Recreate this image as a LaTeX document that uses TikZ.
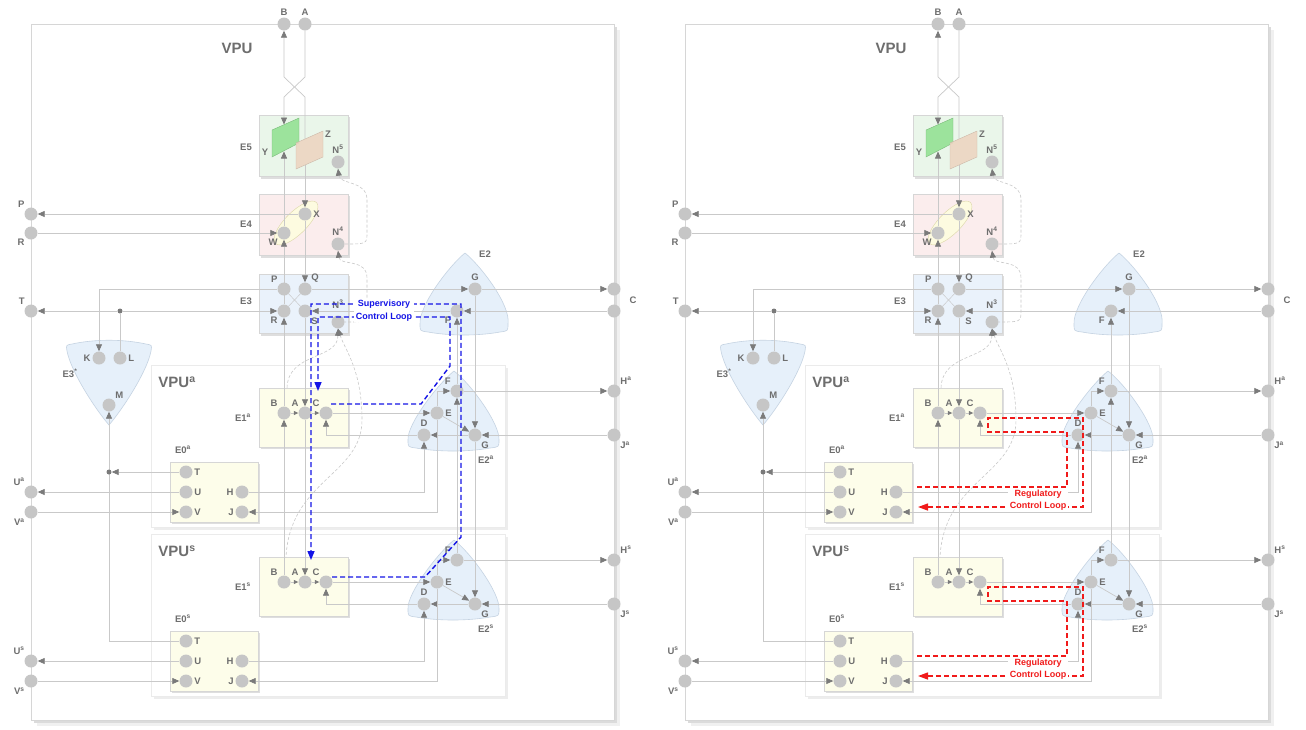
\documentclass[tikz,border=0pt]{standalone}
\usepackage{fontspec}
\setmainfont{Liberation Sans}
\usetikzlibrary{arrows.meta}

\definecolor{linegray}{HTML}{C9C9C9}
\definecolor{tipgray}{HTML}{7A7A7A}
\definecolor{portgray}{HTML}{C6C6C6}
\definecolor{textgray}{HTML}{6E6E6E}
\definecolor{boxline}{HTML}{D6D6D6}
\definecolor{greenbox}{HTML}{EAF6EA}
\definecolor{pinkbox}{HTML}{FBEDED}
\definecolor{bluebox}{HTML}{EAF2FB}
\definecolor{yellowbox}{HTML}{FDFDEA}
\definecolor{triblue}{HTML}{E6F0FA}
\definecolor{triline}{HTML}{C5D3E2}
\definecolor{ygreen}{HTML}{8FE08F}
\definecolor{ztan}{HTML}{EDD5C2}
\definecolor{ellfill}{HTML}{FDFBE0}
\definecolor{ellline}{HTML}{DCD6A8}
\definecolor{supblue}{HTML}{1414E6}
\definecolor{regred}{HTML}{F01A1A}

\pgfdeclarelayer{boxes}
\pgfdeclarelayer{lines}
\pgfsetlayers{boxes,lines,main}

\tikzset{
  port/.style={circle,fill=portgray,minimum size=13pt,inner sep=0pt},
  jdot/.style={circle,fill=tipgray,minimum size=5pt,inner sep=0pt},
  lbl/.style={font=\bfseries\fontsize{9.5}{10}\selectfont,text=textgray,inner sep=1.5pt},
  biglbl/.style={font=\bfseries\fontsize{15}{16}\selectfont,text=textgray,inner sep=0pt},
  link/.style={draw=linegray,line width=0.7pt},
  flow/.style={link,-{Triangle[length=7pt,width=6pt,color=tipgray]}},
  short/.style={link,-{Triangle[length=4.5pt,width=4pt,color=tipgray]}},
  nlink/.style={draw=linegray,line width=0.6pt,dash pattern=on 3pt off 2pt,{Triangle[length=7pt,width=6pt,color=tipgray]}-},
  frame/.style={draw=boxline,fill=white,line width=0.8pt},
  subframe/.style={draw=black!8,fill=white,line width=0.6pt},
  unit/.style={draw=boxline,line width=0.5pt},
  drop/.style={fill=black!13},
  tri/.style={draw=triline,fill=triblue,line width=0.6pt,line join=round},
  superv/.style={draw=supblue,line width=1.4pt,dash pattern=on 5pt off 3pt,-{Triangle[length=9pt,width=7pt]}},
  reg/.style={draw=regred,line width=1.3pt,dash pattern=on 5pt off 3pt,-{Triangle[length=10pt,width=7pt]}},
  looptext/.style={font=\bfseries\fontsize{9}{12.5}\selectfont,align=center,fill=white,inner sep=1.5pt}
}

\begin{document}
\begin{tikzpicture}[x=1pt,y=-1pt]
\useasboundingbox (0,0) rectangle (1306,729);

\foreach \pan/\dx in {l/0,r/654}{
\begin{scope}[xshift=\dx]
  \begin{pgfonlayer}{boxes}
    \fill[black!6] (37,30) rectangle (620,726);
    \fill[black!14] (34,27) rectangle (617,723);
    \draw[frame] (31,24) rectangle (614,720);
    % E5, E4, E3
    \fill[drop] (261,117) rectangle (350,179);
    \draw[unit,fill=greenbox] (259,115) rectangle (348,176);
    \fill[drop] (261,196) rectangle (350,258);
    \draw[unit,fill=pinkbox] (259,194) rectangle (348,255);
    \draw[draw=ellline,fill=ellfill,rotate around={45:(296,223)}] (296,223) ellipse [x radius=29,y radius=11];
    \fill[drop] (261,276) rectangle (350,336);
    \draw[unit,fill=bluebox] (259,274) rectangle (348,333);
    % E2 and E3*
    \draw[tri] (465,253) .. controls (450,265) and (419,305) .. (420,324)
      .. controls (420,331) .. (428,332) .. controls (450,336) and (478,336) .. (500,332)
      .. controls (508,331) .. (508,324) .. controls (511,305) and (480,265) .. (465,253) -- cycle;
    \draw[tri] (72,344) .. controls (95,339) and (123,339) .. (146,344)
      .. controls (152,345) .. (151,351) .. controls (147,372) and (122,410) .. (109,425)
      .. controls (96,410) and (71,372) .. (67,351) .. controls (66,345) .. (72,344) -- cycle;
  \end{pgfonlayer}

  \node[biglbl] (\pan-vpu) at (237,48) {VPU};
  \node[lbl] (\pan-e5) at (246,147) {E5};
  \node[lbl] (\pan-e4) at (246,224) {E4};
  \node[lbl] (\pan-e3) at (246,301) {E3};
  \node[lbl] (\pan-e2) at (485,254) {E2};
  \node[lbl] (\pan-e3x) at (70,373) {E3\textsuperscript{*}};

  % ports on the frame
  \node[port,label={[lbl]above:B}] (\pan-Bt) at (284,24) {};
  \node[port,label={[lbl]above:A}] (\pan-At) at (305,24) {};
  \node[port,label={[lbl]above left:P}] (\pan-Pp) at (31,214) {};
  \node[port,label={[lbl]below left:R}] (\pan-Rp) at (31,233) {};
  \node[port,label={[lbl]above left:T}] (\pan-Tp) at (31,311) {};
  \node[port] (\pan-C1) at (614,289) {};
  \node[port] (\pan-C2) at (614,311) {};
  \node[lbl] (\pan-Clbl) at (633,300) {C};

  % E5
  \draw[fill=ygreen,draw=ygreen!80!black,opacity=0.85] (272,130) -- (299,118) -- (299,143) -- (272,157) -- cycle;
  \draw[fill=ztan,draw=ztan!85!black,opacity=0.9] (296,143) -- (323,131) -- (323,157) -- (296,169) -- cycle;
  \coordinate (\pan-Ytop) at (284,124.5);
  \coordinate (\pan-Ybot) at (284,151.5);
  \coordinate (\pan-Ztop) at (305,139);
  \coordinate (\pan-Zbot) at (305,165);
  \node[lbl] (\pan-Ylbl) at (265,152) {Y};
  \node[lbl] (\pan-Zlbl) at (328,134) {Z};
  \node[port,label={[lbl]above:N\textsuperscript{5}}] (\pan-N5) at (338,162) {};
  % E4
  \node[port,label={[lbl]right:X}] (\pan-X) at (305,214) {};
  \node[port,label={[lbl]below left:W}] (\pan-W) at (284,233) {};
  \node[port,label={[lbl]above:N\textsuperscript{4}}] (\pan-N4) at (338,244) {};
  % E3
  \node[port,label={[lbl]above left:P}] (\pan-P) at (284,289) {};
  \node[port,label={[lbl]above right:Q}] (\pan-Q) at (305,289) {};
  \node[port,label={[lbl]below left:R}] (\pan-R) at (284,311) {};
  \node[port,label={[lbl]below right:S}] (\pan-S) at (305,311) {};
  \node[port,label={[lbl,label distance=5pt]above:N\textsuperscript{3}}] (\pan-N3) at (338,322) {};
  % E2
  \node[port,label={[lbl]above:G}] (\pan-G) at (475,289) {};
  \node[port,label={[lbl]below left:F}] (\pan-F) at (457,311) {};
  % E3*
  \node[port,label={[lbl]left:K}] (\pan-K) at (99,358) {};
  \node[port,label={[lbl]right:L}] (\pan-L) at (120,358) {};
  \node[port,label={[lbl]above right:M}] (\pan-M) at (109,405) {};
  \node[jdot] (\pan-dotT) at (120,311) {};
  \node[jdot] (\pan-dotM) at (109,472) {};

  \foreach \lev/\dy in {a/0,s/169}{
  \begin{scope}[yshift=-\dy]
    \begin{pgfonlayer}{boxes}
      \fill[black!7] (154,368) rectangle (508,530);
      \draw[subframe] (151,365) rectangle (505,527);
      \fill[drop] (261,390) rectangle (350,449);
      \draw[unit,fill=yellowbox] (259,388) rectangle (348,447);
      \fill[drop] (172,464) rectangle (260,524);
      \draw[unit,fill=yellowbox] (170,462) rectangle (258,522);
      \draw[tri] (454,371) .. controls (438,384) and (407,424) .. (408,440)
        .. controls (408,447) .. (416,448) .. controls (438,452) and (468,452) .. (490,448)
        .. controls (499,447) .. (499,440) .. controls (500,424) and (471,384) .. (454,371) -- cycle;
    \end{pgfonlayer}
    \node[biglbl] (\pan-vpu\lev) at (177,382) {VPU\textsuperscript{\lev}};
    \node[lbl] (\pan-e1\lev) at (243,418) {E1\textsuperscript{\lev}};
    \node[lbl] (\pan-e0\lev) at (183,450) {E0\textsuperscript{\lev}};
    \node[lbl] (\pan-e2\lev) at (486,460) {E2\textsuperscript{\lev}};
    % E1
    \node[port,label={[lbl]above left:B}] (\pan-B\lev) at (284,413) {};
    \node[port,label={[lbl]above left:A}] (\pan-A\lev) at (305,413) {};
    \node[port,label={[lbl]above left:C}] (\pan-C\lev) at (326,413) {};
    % E2
    \node[port,label={[lbl]above left:F}] (\pan-F\lev) at (457,391) {};
    \node[port,label={[lbl]right:E}] (\pan-E\lev) at (437,413) {};
    \node[port,label={[lbl]above:D}] (\pan-D\lev) at (424,435) {};
    \node[port,label={[lbl]below right:G}] (\pan-G\lev) at (475,435) {};
    % E0
    \node[port,label={[lbl]right:T}] (\pan-T\lev) at (186,472) {};
    \node[port,label={[lbl]right:U}] (\pan-U\lev) at (186,492) {};
    \node[port,label={[lbl]right:V}] (\pan-V\lev) at (186,512) {};
    \node[port,label={[lbl]left:H}] (\pan-H\lev) at (242,492) {};
    \node[port,label={[lbl]left:J}] (\pan-J\lev) at (242,512) {};
    % ports
    \node[port,label={[lbl]above right:H\textsuperscript{\lev}}] (\pan-Hp\lev) at (614,391) {};
    \node[port,label={[lbl]below right:J\textsuperscript{\lev}}] (\pan-Jp\lev) at (614,435) {};
    \node[port,label={[lbl]above left:U\textsuperscript{\lev}}] (\pan-Up\lev) at (31,492) {};
    \node[port,label={[lbl]below left:V\textsuperscript{\lev}}] (\pan-Vp\lev) at (31,512) {};

    \begin{pgfonlayer}{lines}
      \draw[short] (\pan-B\lev) -- (\pan-A\lev);
      \draw[short] (\pan-A\lev) -- (\pan-C\lev);
      \draw[flow] (\pan-C\lev) -- (\pan-E\lev);
      \draw[flow] (\pan-E\lev) |- (\pan-F\lev);
      \draw[flow] (\pan-E\lev) -- (\pan-G\lev);
      \draw[flow] (\pan-G\lev) -- (\pan-D\lev);
      \draw[flow] (\pan-D\lev) -| (\pan-C\lev);
      \draw[flow] (\pan-F\lev) -- (\pan-Hp\lev);
      \draw[flow] (\pan-Jp\lev) -- (\pan-G\lev);
      \draw[flow] (\pan-H\lev) -| (\pan-D\lev);
      \draw[flow] (\pan-E\lev) |- (\pan-J\lev);
      \draw[flow] (\pan-U\lev) -- (\pan-Up\lev);
      \draw[flow] (\pan-Vp\lev) -- (\pan-V\lev);
    \end{pgfonlayer}
  \end{scope}
  }

  \begin{pgfonlayer}{lines}
    \draw[flow] (\pan-At) -- (305,77) -- (284,97) -- (\pan-Ytop);
    \draw[flow] (\pan-Ztop) -- (305,97) -- (284,77) -- (\pan-Bt);
    \draw[flow] (\pan-Zbot) -- (\pan-X);
    \draw[flow] (\pan-W) -- (\pan-Ybot);
    \draw[flow] (\pan-X) -- (\pan-Pp);
    \draw[flow] (\pan-Rp) -- (\pan-W);
    \draw[flow] (\pan-R) -- (\pan-W);
    \draw[flow] (\pan-X) -- (\pan-Q);
    \draw[link,line width=0.5pt] (\pan-P) -- (\pan-S);
    \draw[link,line width=0.5pt] (\pan-Q) -- (\pan-R);
    \draw[flow] (\pan-Q) -- (\pan-G);
    \draw[flow] (\pan-P) -| (\pan-K);
    \draw[link] (\pan-L) -- (\pan-dotT);
    \draw[flow] (\pan-dotT) -- (\pan-Tp);
    \draw[flow] (\pan-dotT) -- (\pan-R);
    \draw[flow] (\pan-G) -- (\pan-C1);
    \draw[flow] (\pan-C2) -- (\pan-F);
    \draw[flow] (\pan-F) -- (\pan-S);
    \draw[flow] (\pan-S) -- (\pan-Aa);
    \draw[flow] (\pan-Aa) -- (\pan-As);
    \draw[flow] (\pan-Bs) -- (\pan-Ba);
    \draw[flow] (\pan-Ba) -- (\pan-R);
    \draw[flow] (\pan-G) -- (\pan-Ga);
    \draw[flow] (\pan-Ga) -- (\pan-Gs);
    \draw[flow] (\pan-Fs) -- (\pan-Fa);
    \draw[flow] (\pan-Fa) -- (\pan-F);
    \draw[flow] (\pan-Ta) -- (\pan-dotM);
    \draw[flow] (\pan-Ts) -| (\pan-M);
    % dashed links between the N ports
    \draw[nlink] (\pan-N5.south) .. controls (340,185) and (367,180) .. (367,200) -- (367,232) .. controls (367,244) .. (\pan-N4.east);
    \draw[nlink] (\pan-N4.south) .. controls (340,266) and (367,258) .. (367,278) -- (367,310) .. controls (367,322) .. (\pan-N3.east);
    \draw[nlink] (\pan-N3.south) .. controls (338,360) and (288,352) .. (287,388);
    \draw[nlink] (\pan-N3.south) .. controls (345,350) and (362,370) .. (362,420) .. controls (362,475) and (290,480) .. (286,557);
  \end{pgfonlayer}
\end{scope}
}

% supervisory loop
\draw[superv] (331,404) -- (421,404) -- (450,366) -- (450,317) -- (318,317) -- (318,391);
\draw[superv] (332,577) -- (425,577) -- (461,537) -- (461,304) -- (311,304) -- (311,560);
\node[looptext,text=supblue] (suplbl) at (384,310.5) {Supervisory\\Control Loop};

% regulatory loops
\foreach \dy in {0,169}{
  \draw[reg] (917,487+\dy) -- (1067,487+\dy) -- (1067,432+\dy) -- (988,432+\dy) -- (988,418+\dy) -- (1083,418+\dy) -- (1083,507+\dy) -- (918,507+\dy);
}
\node[looptext,text=regred] (reglbla) at (1038,500) {Regulatory\\Control Loop};
\node[looptext,text=regred] (reglbls) at (1038,669) {Regulatory\\Control Loop};
\end{tikzpicture}
\end{document}
